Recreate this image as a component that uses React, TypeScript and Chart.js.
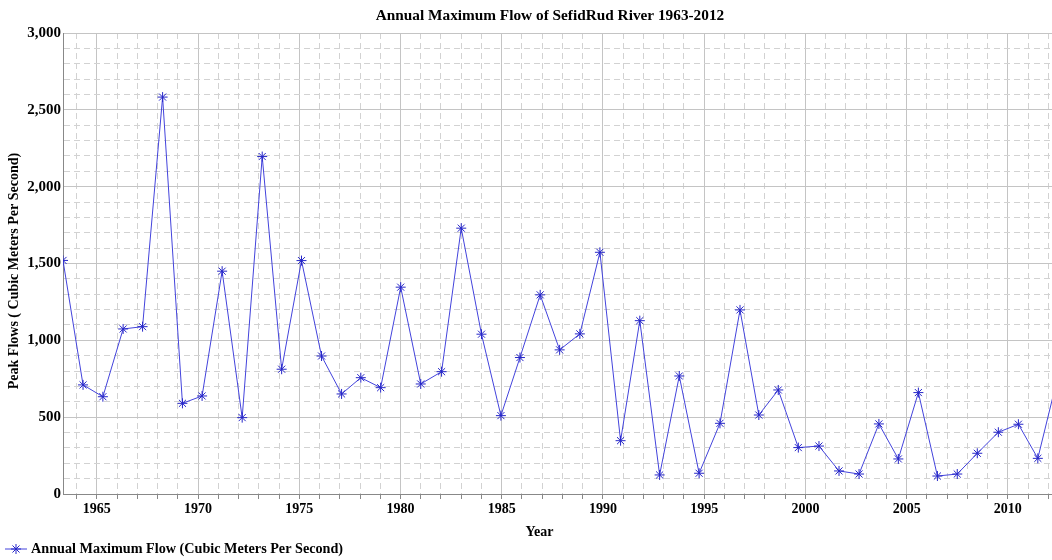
import React, { useEffect, useRef } from "react";
import { Chart, registerables } from "chart.js";

Chart.register(...registerables);

const TITLE = "Annual Maximum Flow of SefidRud River 1963-2012";
const X_TITLE = "Year";
const Y_TITLE = "Peak Flows ( Cubic Meters Per Second)";
const SERIES_LABEL = "Annual Maximum Flow (Cubic Meters Per Second)";

// Decimal-year positions of each annual maximum
const years = [
  1963.33, 1964.32, 1965.3, 1966.3, 1967.26, 1968.25, 1969.23, 1970.2, 1971.19, 1972.18,
  1973.17, 1974.13, 1975.11, 1976.1, 1977.09, 1978.04, 1979.02, 1980.01, 1981.0, 1982.03,
  1983.0, 1984.0, 1984.96, 1985.9, 1986.9, 1987.86, 1988.86, 1989.85, 1990.87, 1991.82,
  1992.8, 1993.77, 1994.75, 1995.78, 1996.77, 1997.7, 1998.66, 1999.65, 2000.67, 2001.66,
  2002.65, 2003.63, 2004.59, 2005.58, 2006.52, 2007.5, 2008.49, 2009.53, 2010.52, 2011.48,
  2012.46,
];

// Peak flows (m³/s)
const flows = [
  1520, 710, 633, 1074, 1089, 2583, 590, 638, 1450, 497,
  2196, 812, 1519, 898, 651, 757, 692, 1346, 716, 796,
  1730, 1040, 510, 888, 1296, 938, 1042, 1573, 347, 1128,
  124, 768, 135, 460, 1198, 514, 677, 302, 312, 150,
  130, 456, 228, 660, 117, 130, 265, 402, 454, 232,
  760,
];

const X_MIN = 1963.33;
const X_MAX = 2012.18;
const xTickYears = Array.from({ length: 49 }, (_, i) => 1964 + i);
const Y_MIN = 0;
const Y_MAX = 3000;

const LINE_COLOR = "#4343dc";
const MARK_COLOR = "#2626c8";
const FONT = '"Liberation Serif", "Times New Roman", serif';

function drawStar(ctx: CanvasRenderingContext2D, x: number, y: number, r: number) {
  ctx.beginPath();
  for (let k = 0; k < 4; k++) {
    const a = (k * Math.PI) / 4;
    ctx.moveTo(x - r * Math.cos(a), y - r * Math.sin(a));
    ctx.lineTo(x + r * Math.cos(a), y + r * Math.sin(a));
  }
  ctx.stroke();
}

const textPlugin = {
  id: "textPlugin",
  afterDraw(chart: any) {
    const ctx: CanvasRenderingContext2D = chart.ctx;
    ctx.save();
    ctx.fillStyle = "#000";
    ctx.textAlign = "center";
    ctx.textBaseline = "middle";
    ctx.font = `bold 15.3px ${FONT}`;
    ctx.fillText(TITLE, 550, 16);
    ctx.font = `bold 14px ${FONT}`;
    ctx.fillText(X_TITLE, 539.5, 532);
    ctx.save();
    ctx.translate(14, 271);
    ctx.rotate(-Math.PI / 2);
    ctx.fillText(Y_TITLE, 0, 0);
    ctx.restore();
    // legend
    const ly = 549;
    ctx.strokeStyle = LINE_COLOR;
    ctx.lineWidth = 1;
    ctx.beginPath();
    ctx.moveTo(5, ly);
    ctx.lineTo(27, ly);
    ctx.stroke();
    ctx.strokeStyle = MARK_COLOR;
    drawStar(ctx, 16, ly, 5);
    ctx.textAlign = "left";
    ctx.font = `bold 14.2px ${FONT}`;
    ctx.fillText(SERIES_LABEL, 31, ly);
    ctx.restore();
  },
};

export default function App() {
  const ref = useRef<HTMLCanvasElement | null>(null);

  useEffect(() => {
    if (!ref.current) return;
    const data = years.map((x, i) => ({ x, y: flows[i] }));
    const chart = new Chart(ref.current, {
      type: "line",
      data: {
        datasets: [
          {
            label: SERIES_LABEL,
            data,
            borderColor: LINE_COLOR,
            borderWidth: 1,
            tension: 0,
            fill: false,
            pointStyle: "star",
            pointRadius: 5,
            pointBorderColor: MARK_COLOR,
            pointBorderWidth: 1,
            pointBackgroundColor: MARK_COLOR,
          },
        ],
      },
      options: {
        animation: false,
        responsive: false,
        layout: { autoPadding: false, padding: { top: 33, bottom: 46, left: 0, right: 0 } },
        plugins: {
          legend: { display: false },
          title: { display: false },
          tooltip: { enabled: false },
        },
        scales: {
          x: {
            type: "linear",
            min: X_MIN,
            max: X_MAX,
            afterBuildTicks: (scale: any) => {
              scale.ticks = xTickYears.map((v) => ({ value: v }));
            },
            afterFit: (scale: any) => {
              scale.height = 20;
            },
            ticks: {
              autoSkip: false,
              maxRotation: 0,
              minRotation: 0,
              padding: 2,
              color: "#000",
              font: { family: FONT, size: 14, weight: "bold" },
              callback: (v: any) => (Number(v) % 5 === 0 ? String(v) : ""),
            },
            grid: {
              color: (c: any) =>
                c.tick && c.tick.value % 5 === 0 ? "#c4c4c4" : "#d2d2d2",
              lineWidth: 1,
              drawTicks: true,
              tickLength: 5,
              tickColor: "#888",
            },
            border: {
              display: true,
              color: "#888",
              width: 1,
              dash: (c: any) =>
                c.tick && c.tick.value % 5 !== 0 ? [6, 4] : [],
            },
          },
          y: {
            type: "linear",
            min: Y_MIN,
            max: Y_MAX,
            afterFit: (scale: any) => {
              scale.width = 63;
            },
            ticks: {
              stepSize: 100,
              autoSkip: false,
              padding: 2,
              color: "#000",
              font: { family: FONT, size: 15, weight: "bold" },
              callback: (v: any) =>
                Number(v) % 500 === 0 ? Number(v).toLocaleString("en-US") : "",
            },
            grid: {
              color: (c: any) =>
                c.tick && c.tick.value % 500 === 0 ? "#c4c4c4" : "#d2d2d2",
              lineWidth: 1,
              drawTicks: false,
            },
            border: {
              display: true,
              color: "#888",
              width: 1,
              dash: (c: any) =>
                c.tick && c.tick.value % 500 !== 0 ? [6, 4] : [],
            },
          },
        },
      },
      plugins: [textPlugin],
    });
    return () => chart.destroy();
  }, []);

  return (
    <div
      style={{
        position: "fixed",
        left: 0,
        top: 0,
        width: 1052,
        height: 560,
        background: "#fff",
      }}
    >
      <canvas ref={ref} width={1052} height={560} style={{ display: "block" }} />
    </div>
  );
}
